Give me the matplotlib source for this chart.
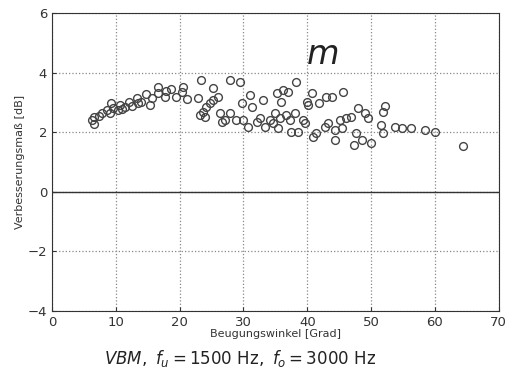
import numpy as np
import matplotlib.pyplot as plt

# Beugungswinkel [Grad] und Verbesserungsmass [dB]
winkel = [6.2, 6.5, 6.5, 7.3, 7.8, 8.6, 9.1, 9.3, 9.6, 10.4, 10.6, 10.9, 11.4, 12.0,
          12.5, 13.3, 13.5, 14.0, 14.8, 15.3, 15.6, 16.6, 16.6, 17.7, 17.9, 18.7,
          19.5, 20.3, 20.6, 21.1, 22.9, 23.4, 23.2, 23.7, 24.0, 24.2, 24.7, 25.3,
          25.3, 26.0, 26.3, 26.6, 27.1, 27.9, 27.9, 28.9, 29.4, 29.7, 30.0, 30.7,
          31.0, 31.3, 32.1, 32.6, 33.1, 33.4, 34.1, 34.7, 34.9, 35.2, 35.4, 35.7,
          35.9, 36.2, 36.7, 37.0, 37.3, 37.5, 38.0, 38.3, 38.6, 39.4, 39.6, 39.9,
          40.1, 40.7, 40.9, 41.4, 41.9, 42.7, 43.0, 43.3, 43.8, 44.3, 44.3, 45.1,
          45.4, 45.6, 46.1, 46.9, 47.3, 47.7, 48.0, 48.5, 49.0, 49.5, 50.0, 51.6,
          51.9, 51.9, 52.1, 53.7, 54.8, 56.3, 58.4, 60.0, 64.4]
verbesserung = [2.41, 2.28, 2.50, 2.55, 2.64, 2.75, 2.64, 2.97, 2.80, 2.75, 2.92, 2.77,
                2.86, 3.03, 2.88, 3.16, 2.97, 3.03, 3.29, 2.92, 3.14, 3.51, 3.31, 3.20,
                3.40, 3.45, 3.20, 3.37, 3.51, 3.11, 3.14, 3.76, 2.58, 2.69, 2.53, 2.86,
                2.97, 3.48, 3.09, 3.20, 2.64, 2.36, 2.41, 3.76, 2.64, 2.41, 3.70, 2.97,
                2.41, 2.19, 3.25, 2.86, 2.36, 2.47, 3.09, 2.19, 2.41, 2.30, 2.64, 3.31,
                2.13, 2.47, 3.03, 3.42, 2.58, 3.37, 2.41, 2.02, 2.64, 3.70, 2.02, 2.41,
                2.30, 3.03, 2.92, 3.31, 1.85, 1.96, 2.97, 2.19, 3.20, 2.30, 3.20, 1.74,
                2.08, 2.41, 2.13, 3.37, 2.47, 2.53, 1.57, 1.96, 2.81, 1.74, 2.64, 2.47,
                1.63, 2.25, 1.96, 2.69, 2.88, 2.19, 2.13, 2.13, 2.08, 2.02, 1.54]

xticks = [0, 10, 20, 30, 40, 50, 60, 70]
yticks = [-4, -2, 0, 2, 4, 6]

fig = plt.figure(figsize=(5.1, 3.79), dpi=100)
ax = fig.add_axes([0.102, 0.180, 0.876, 0.785])

ax.plot(winkel, verbesserung, 'o', mfc='none', mec='#444444', ms=5.6, mew=1.0)
ax.axhline(0, color='#333333', lw=1.0)

ax.set_xlim(0, 70)
ax.set_ylim(-4, 6)
ax.set_xticks(xticks)
ax.set_yticks(yticks)
ax.tick_params(direction='in', labelsize=9.5, colors='#333333', length=3)
ax.grid(True, ls=':', color='#888888', lw=0.9)
for s in ax.spines.values():
    s.set_color('#333333')

ax.set_xlabel('Beugungswinkel [Grad]', fontsize=8, color='#333333', labelpad=0)
ax.set_ylabel('Verbesserungsmaß [dB]', fontsize=8, color='#333333', labelpad=2)

# handschriftliche Notiz
ax.text(42.5, 4.05, 'm', fontsize=24, color='#222222', ha='center', va='bottom',
        fontstyle='italic')

fig.text(0.47, 0.055, r'$\mathit{VBM},\ f_u = 1500\ \mathrm{Hz},\ f_o = 3000\ \mathrm{Hz}$',
         fontsize=12, ha='center', va='center', color='#222222')

plt.savefig('out.png', dpi=100)
